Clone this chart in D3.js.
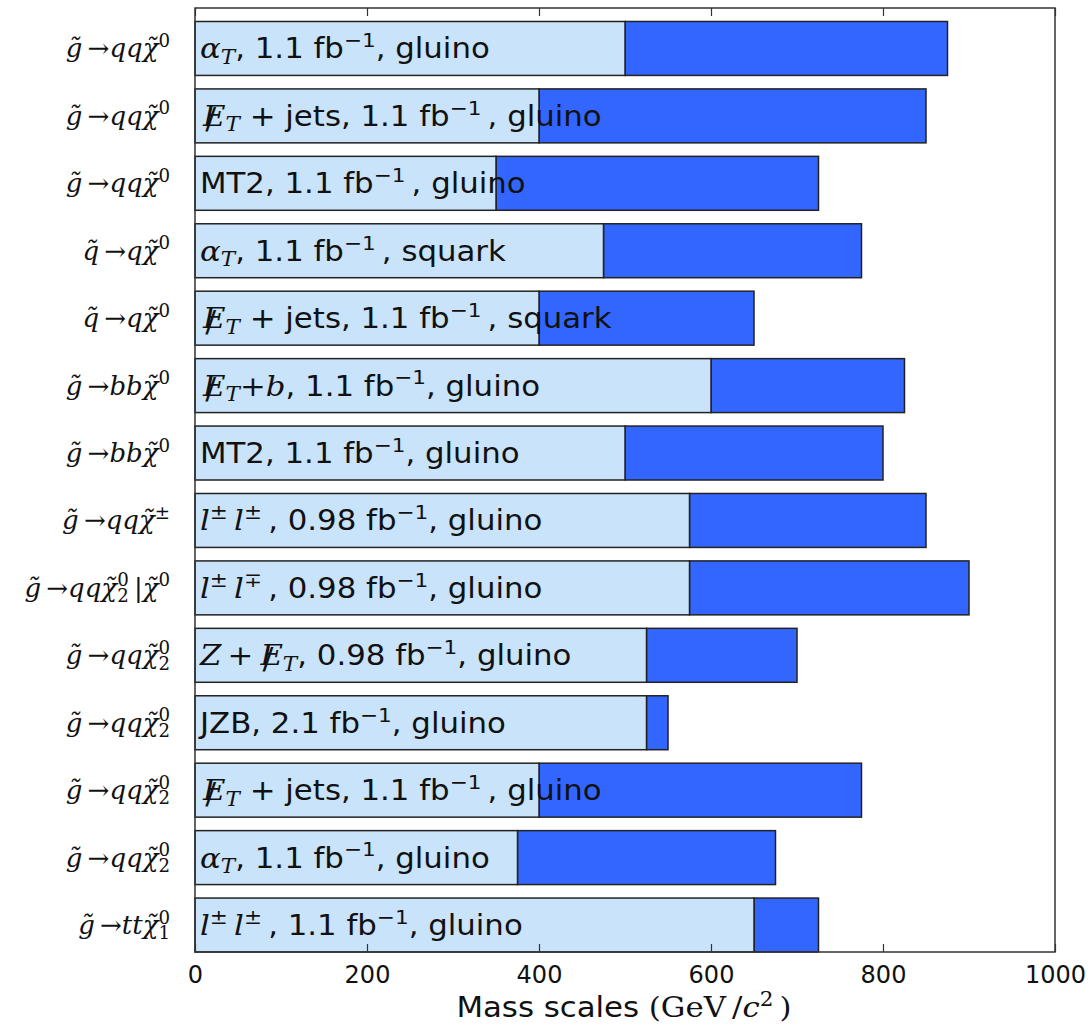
<!DOCTYPE html>
<html>
<head>
<meta charset="utf-8">
<script src="https://cdn.jsdelivr.net/npm/d3@7"></script>
<style>
  html, body { margin: 0; padding: 0; background: #fff; }
  svg { display: block; }
</style>
</head>
<body>
<svg id="chart" width="1092" height="1028"></svg>
<script>
// Search channels, top to bottom. Each label is a list of text runs:
// [text, kind] where kind is n (sans), m (math italic), r (math roman),
// sup (sans superscript), rsup (roman superscript), msub (italic subscript),
// rsubsup ("sup|sub" stacked), slash (overstrike for missing E_T).
const processLabels = [
  [["g\u0303", "m"], ["\u2009\u2192", "r"], ["qq\u03C7\u0303", "m"], ["0", "rsup"]],
  [["g\u0303", "m"], ["\u2009\u2192", "r"], ["qq\u03C7\u0303", "m"], ["0", "rsup"]],
  [["g\u0303", "m"], ["\u2009\u2192", "r"], ["qq\u03C7\u0303", "m"], ["0", "rsup"]],
  [["q\u0303", "m"], ["\u2009\u2192", "r"], ["q\u03C7\u0303", "m"], ["0", "rsup"]],
  [["q\u0303", "m"], ["\u2009\u2192", "r"], ["q\u03C7\u0303", "m"], ["0", "rsup"]],
  [["g\u0303", "m"], ["\u2009\u2192", "r"], ["bb\u03C7\u0303", "m"], ["0", "rsup"]],
  [["g\u0303", "m"], ["\u2009\u2192", "r"], ["bb\u03C7\u0303", "m"], ["0", "rsup"]],
  [["g\u0303", "m"], ["\u2009\u2192", "r"], ["qq\u03C7\u0303", "m"], ["\u00B1", "rsup"]],
  [["g\u0303", "m"], ["\u2009\u2192", "r"], ["qq\u03C7\u0303", "m"], ["0|2", "rsubsup"], ["\u2009|", "r"], ["\u03C7\u0303", "m"], ["0", "rsup"]],
  [["g\u0303", "m"], ["\u2009\u2192", "r"], ["qq\u03C7\u0303", "m"], ["0|2", "rsubsup"]],
  [["g\u0303", "m"], ["\u2009\u2192", "r"], ["qq\u03C7\u0303", "m"], ["0|2", "rsubsup"]],
  [["g\u0303", "m"], ["\u2009\u2192", "r"], ["qq\u03C7\u0303", "m"], ["0|2", "rsubsup"]],
  [["g\u0303", "m"], ["\u2009\u2192", "r"], ["qq\u03C7\u0303", "m"], ["0|2", "rsubsup"]],
  [["g\u0303", "m"], ["\u2009\u2192", "r"], ["tt\u03C7\u0303", "m"], ["0|1", "rsubsup"]]
];

// Analysis descriptions written inside each bar.
const MET = [["/", "slash"], ["E", "m"], ["T", "msub"]];
const analysisLabels = [
  [["\u03B1", "m"], ["T", "msub"], [", 1.1 fb", "n"], ["\u22121", "sup"], [", gluino", "n"]],
  [...MET, [" + jets, 1.1 fb", "n"], ["\u22121", "sup"], ["\u2009, gluino", "n"]],
  [["MT2, 1.1 fb", "n"], ["\u22121", "sup"], ["\u2009, gluino", "n"]],
  [["\u03B1", "m"], ["T", "msub"], [", 1.1 fb", "n"], ["\u22121", "sup"], ["\u2009, squark", "n"]],
  [...MET, [" + jets, 1.1 fb", "n"], ["\u22121", "sup"], ["\u2009, squark", "n"]],
  [...MET, ["+", "r"], ["b", "m"], [", 1.1 fb", "n"], ["\u22121", "sup"], [", gluino", "n"]],
  [["MT2, 1.1 fb", "n"], ["\u22121", "sup"], [", gluino", "n"]],
  [["l", "m"], ["\u00B1", "rsup"], ["\u2009l", "m"], ["\u00B1", "rsup"], ["\u2009, 0.98 fb", "n"], ["\u22121", "sup"], [", gluino", "n"]],
  [["l", "m"], ["\u00B1", "rsup"], ["\u2009l", "m"], ["\u2213", "rsup"], ["\u2009, 0.98 fb", "n"], ["\u22121", "sup"], [", gluino", "n"]],
  [["Z", "m"], ["\u2009+\u2009", "r"], ...MET, [", 0.98 fb", "n"], ["\u22121", "sup"], [", gluino", "n"]],
  [["JZB, 2.1 fb", "n"], ["\u22121", "sup"], [", gluino", "n"]],
  [...MET, [" + jets, 1.1 fb", "n"], ["\u22121", "sup"], ["\u2009, gluino", "n"]],
  [["\u03B1", "m"], ["T", "msub"], [", 1.1 fb", "n"], ["\u22121", "sup"], [", gluino", "n"]],
  [["l", "m"], ["\u00B1", "rsup"], ["\u2009l", "m"], ["\u00B1", "rsup"], ["\u2009, 1.1 fb", "n"], ["\u22121", "sup"], [", gluino", "n"]]
];

// Mass reach (GeV/c^2): inner (light) and outer (dark) edge of each bar.
const innerReach = [500, 400, 350, 475, 400, 600, 500, 575, 575, 525, 525, 400, 375, 650];
const outerReach = [875, 850, 725, 775, 650, 825, 800, 850, 900, 700, 550, 775, 675, 725];

const xTicks = [0, 200, 400, 600, 800, 1000];
const xTitle = [["Mass scales ", "n"], ["(GeV", "r"], ["\u2009/", "r"], ["c", "m"], ["2", "rsup"], ["\u2009)", "r"]];

const svg = d3.select("#chart");
const frame = { left: 195, right: 1055, top: 8, bottom: 952 };

const x = d3.scaleLinear().domain([0, 1000]).range([frame.left, frame.right]);
const y = d3.scaleLinear().domain([-0.6, processLabels.length - 0.6]).range([frame.top, frame.bottom]);
const barH = y(0.4) - y(-0.4);

const LIGHT = "#c9e3fb", DARK = "#3366ff", EDGE = "#222";
const SANS = "DejaVu Sans, sans-serif";
const SERIF = "DejaVu Serif, serif";
const STRETCH = 1.1; // horizontal widening of the in-bar text

// Builds a run of tspans for mixed sans / math text.
function writeRuns(textSel, runs, size) {
  let shift = 0; // current vertical offset from baseline
  const setShift = (ts, target) => { ts.attr("dy", target - shift); shift = target; };
  runs.forEach(([t, kind]) => {
    if (kind === "rsubsup") {
      const [sp, sb] = t.split("|");
      const s = size * 0.7;
      const a = textSel.append("tspan").attr("font-family", SERIF).attr("font-size", s).text(sp);
      setShift(a, -size * 0.4);
      const w = a.node().getComputedTextLength();
      const b = textSel.append("tspan").attr("font-family", SERIF).attr("font-size", s).attr("dx", -w).text(sb);
      setShift(b, size * 0.2);
      return;
    }
    const ts = textSel.append("tspan").text(t);
    if (kind === "n") { ts.attr("font-family", SANS).attr("font-size", size); setShift(ts, 0); }
    else if (kind === "m") { ts.attr("font-family", SERIF).attr("font-style", "italic").attr("font-size", size); setShift(ts, 0); }
    else if (kind === "r") { ts.attr("font-family", SERIF).attr("font-size", size); setShift(ts, 0); }
    else if (kind === "slash") {
      ts.attr("font-family", SERIF).attr("font-size", size * 1.05);
      setShift(ts, size * 0.12);
      ts.attr("dx", size * 0.1);
      ts.node().__pull = true;
    }
    else if (kind === "sup") { ts.attr("font-family", SANS).attr("font-size", size * 0.7); setShift(ts, -size * 0.4); }
    else if (kind === "rsup") { ts.attr("font-family", SERIF).attr("font-size", size * 0.7); setShift(ts, -size * 0.4); }
    else if (kind === "msub") { ts.attr("font-family", SERIF).attr("font-style", "italic").attr("font-size", size * 0.7); setShift(ts, size * 0.2); }
  });
  // pull the glyph that follows each slash back over it
  const spans = textSel.selectAll("tspan").nodes();
  spans.forEach((s, i) => {
    if (s.__pull && spans[i + 1]) {
      const w = s.getComputedTextLength();
      d3.select(spans[i + 1]).attr("dx", -w * 1.2);
    }
  });
}

const rows = d3.range(processLabels.length);

// Outer (dark) segments
svg.append("g").selectAll("rect").data(rows).join("rect")
  .attr("x", i => x(innerReach[i]))
  .attr("y", i => y(i) - barH / 2)
  .attr("width", i => x(outerReach[i]) - x(innerReach[i]))
  .attr("height", barH)
  .attr("fill", DARK).attr("stroke", EDGE).attr("stroke-width", 1.5);

// Inner (light) segments
svg.append("g").selectAll("rect").data(rows).join("rect")
  .attr("x", x(0))
  .attr("y", i => y(i) - barH / 2)
  .attr("width", i => x(innerReach[i]) - x(0))
  .attr("height", barH)
  .attr("fill", LIGHT).attr("stroke", EDGE).attr("stroke-width", 1.5);

// Analysis text inside the bars
rows.forEach(i => {
  const g = svg.append("g")
    .attr("transform", `translate(${x(0) + 5},${y(i) + 10}) scale(${STRETCH},1)`);
  const t = g.append("text").attr("x", 0).attr("y", 0).attr("fill", "#111");
  writeRuns(t, analysisLabels[i], 28);
});

// Process labels on the left
rows.forEach(i => {
  const t = svg.append("text")
    .attr("x", 170)
    .attr("y", y(i) + 9)
    .attr("text-anchor", "end")
    .attr("fill", "#111");
  writeRuns(t, processLabels[i], 26);
});

// Frame
svg.append("rect")
  .attr("x", frame.left).attr("y", frame.top)
  .attr("width", frame.right - frame.left).attr("height", frame.bottom - frame.top)
  .attr("fill", "none").attr("stroke", "#333").attr("stroke-width", 1.5);

// Bottom axis with inward ticks
const gx = svg.append("g").attr("transform", `translate(0,${frame.bottom})`)
  .call(d3.axisBottom(x).tickValues(xTicks).tickFormat(d3.format("d"))
    .tickSizeInner(-8).tickSizeOuter(0).tickPadding(14));
gx.select(".domain").remove();
gx.selectAll("line").attr("stroke", "#333").attr("stroke-width", 1.2);
gx.selectAll("text").attr("font-family", SANS).attr("font-size", 24).attr("fill", "#111");

// Top axis: ticks only
const gt = svg.append("g").attr("transform", `translate(0,${frame.top})`)
  .call(d3.axisTop(x).tickValues(xTicks).tickFormat("").tickSizeInner(-8).tickSizeOuter(0));
gt.select(".domain").remove();
gt.selectAll("line").attr("stroke", "#333").attr("stroke-width", 1.2);

// Axis title
const tg = svg.append("g").attr("transform", `translate(624,1017) scale(${STRETCH},1)`);
const title = tg.append("text").attr("x", 0).attr("y", 0)
  .attr("text-anchor", "middle").attr("fill", "#111");
writeRuns(title, xTitle, 28);
</script>
</body>
</html>
